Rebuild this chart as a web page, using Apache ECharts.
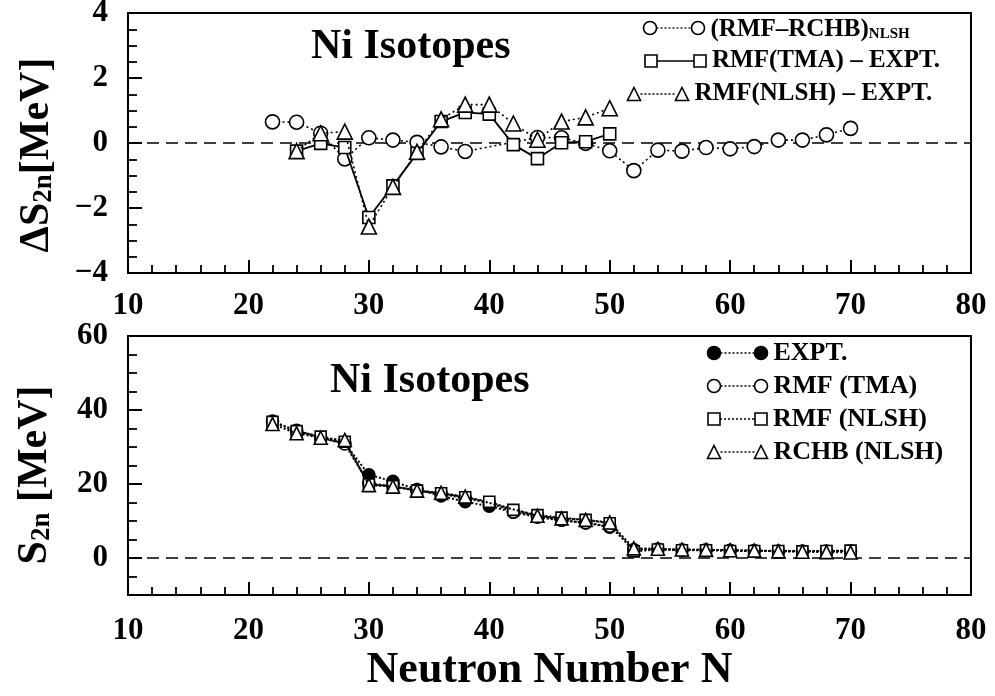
<!DOCTYPE html>
<html>
<head>
<meta charset="utf-8">
<script src="https://cdn.jsdelivr.net/npm/echarts@6/dist/echarts.min.js"></script>
<style>
  html, body { margin: 0; padding: 0; background: #fff; }
  #chart { width: 995px; height: 696px; }
</style>
</head>
<body>
<div id="chart"></div>
<script>
// Neutron numbers of the Ni chain
const neutronN = [22, 24, 26, 28, 30, 32, 34, 36, 38, 40, 42, 44, 46, 48, 50,
                  52, 54, 56, 58, 60, 62, 64, 66, 68, 70];
// Neutron numbers with measured masses
const exptN = [24, 26, 28, 30, 32, 34, 36, 38, 40, 42, 44, 46, 48, 50];

// Upper panel: differences of S2n (MeV)
const diffRmfRchb = [0.65, 0.64, 0.30, -0.49, 0.16, 0.09, 0.02, -0.12, -0.26, null, null, 0.17, 0.16, -0.01, -0.24,
                     -0.85, -0.22, -0.25, -0.14, -0.18, -0.11, 0.09, 0.09, 0.25, 0.45];
const diffTmaExpt = [-0.25, -0.01, -0.14, -2.29, -1.32, -0.32, 0.66, 0.94, 0.89, -0.05, -0.48, 0.01, 0.04, 0.28];
const diffNlshExpt = [-0.25, 0.30, 0.35, -2.57, -1.35, -0.27, 0.73, 1.18, 1.18, 0.60, 0.10, 0.66, 0.79, 1.07];

// Lower panel: two-neutron separation energies S2n (MeV)
const s2nExpt = [34.5, 32.5, 31.0, 22.5, 20.7, 18.5, 16.8, 15.2, 14.0, 12.4, 11.5, 10.2, 9.5, 8.3];
const s2nRmfTma = [37.0, 34.3, 32.5, 30.8, 20.2, 19.4, 18.2, 17.4, 16.1, 14.9, 12.4, 11.0, 10.2, 9.5, 8.6,
                   2.3, 2.4, 2.2, 2.2, 2.1, 2.0, 1.9, 1.9, 1.9, 1.9];
const s2nRmfNlsh = [36.8, 34.3, 32.8, 31.4, 19.9, 19.4, 18.2, 17.5, 16.4, 15.2, 13.0, 11.6, 10.9, 10.3, 9.4,
                    1.8, 2.3, 2.1, 2.1, 1.9, 1.9, 1.9, 1.8, 1.9, 2.0];
const s2nRchbNlsh = [36.2, 33.7, 32.5, 31.9, 19.7, 19.3, 18.2, 17.6, 16.6, null, null, 11.4, 10.7, 10.3, 9.6,
                     2.6, 2.5, 2.3, 2.2, 2.1, 2.0, 1.8, 1.7, 1.6, 1.5];

// Axis ticks and ranges
const xRange = [10, 80];
const s2nTicks = [0, 20, 40, 60];

const FONT = "'Liberation Serif', 'Times New Roman', serif";
const BLACK = '#000';

const pairs = (xs, ys) => xs.map((x, i) => [x, ys[i]]).filter(p => p[1] !== null);

const chart = echarts.init(document.getElementById('chart'), null, { renderer: 'canvas' });

const grids = [
  { left: 128, top: 13, width: 843, height: 260 },
  { left: 128, top: 336, width: 843, height: 259 }
];

function xAxis(gridIndex, withName, labelMargin) {
  return {
    type: 'value', gridIndex, position: 'bottom', min: xRange[0], max: xRange[1], interval: 10, z: 5,
    axisLine: { show: true, onZero: false, lineStyle: { color: BLACK, width: 2 } },
    axisTick: { show: true, inside: true, length: 13, lineStyle: { color: BLACK, width: 2 } },
    minorTick: { show: true, splitNumber: 5, length: 8, lineStyle: { color: BLACK, width: 1.8 } },
    splitLine: { show: false },
    minorSplitLine: { show: false },
    axisLabel: { color: BLACK, fontFamily: FONT, fontWeight: 'bold', fontSize: 31, margin: labelMargin },
    name: withName ? 'Neutron Number N' : '',
    nameLocation: 'middle', nameGap: 54,
    nameTextStyle: { color: BLACK, fontFamily: FONT, fontWeight: 'bold', fontSize: 44 }
  };
}

const yAxes = [
  {
    type: 'value', gridIndex: 0, position: 'left', min: -4, max: 4, interval: 2, z: 5,
    axisLine: { show: true, onZero: false, lineStyle: { color: BLACK, width: 2 } },
    axisTick: { show: true, inside: true, length: 14, lineStyle: { color: BLACK, width: 2 } },
    minorTick: { show: true, splitNumber: 4, length: 9, lineStyle: { color: BLACK, width: 1.8 } },
    splitLine: { show: false },
    axisLabel: { color: BLACK, fontFamily: FONT, fontWeight: 'bold', fontSize: 31, margin: 20,
                 formatter: v => (v < 0 ? '\u2212' + Math.abs(v) : String(v)) }
  },
  // S2n axis: minor ticks every 5 MeV
  {
    type: 'value', gridIndex: 1, position: 'left', offset: 0, min: -10, max: 60, interval: 5, z: 5,
    axisLine: { show: true, onZero: false, lineStyle: { color: BLACK, width: 2 } },
    axisTick: { show: true, inside: true, length: 9, lineStyle: { color: BLACK, width: 1.8 } },
    splitLine: { show: false },
    axisLabel: { show: false }
  },
  // S2n axis: major ticks and labels
  {
    type: 'value', gridIndex: 1, position: 'left', offset: 0, min: -10, max: 60, interval: 10, z: 5,
    axisLine: { show: false, onZero: false },
    axisTick: { show: true, inside: true, length: 14, customValues: s2nTicks, lineStyle: { color: BLACK, width: 2 } },
    splitLine: { show: false },
    axisLabel: { color: BLACK, fontFamily: FONT, fontWeight: 'bold', fontSize: 31, margin: 20, customValues: s2nTicks }
  }
];

// Dashed reference line at zero across the full N range
function zeroSeries(xi, yi) {
  return {
    type: 'line', xAxisIndex: xi, yAxisIndex: yi, data: [[xRange[0], 0], [xRange[1], 0]],
    symbol: 'none', silent: true, animation: false, z: 1,
    lineStyle: { color: BLACK, width: 1.6, type: [12, 7] }
  };
}

function markerSeries(xi, yi, data, symbol, size, lineType, lineWidth, fill, z) {
  return {
    type: 'line', xAxisIndex: xi, yAxisIndex: yi, data,
    symbol, symbolSize: size, showSymbol: true, connectNulls: true,
    lineStyle: { color: BLACK, width: lineWidth, type: lineType },
    itemStyle: { color: fill, borderColor: BLACK, borderWidth: 1.6 },
    emphasis: { disabled: true }, animation: false, z
  };
}

const series = [
  zeroSeries(0, 0),
  markerSeries(0, 0, pairs(neutronN, diffRmfRchb), 'circle', 14, [2, 3], 1.6, '#fff', 3),
  markerSeries(0, 0, pairs(exptN, diffTmaExpt), 'rect', 12, 'solid', 1.8, '#fff', 4),
  markerSeries(0, 0, pairs(exptN, diffNlshExpt), 'triangle', 15, [2, 3], 1.6, '#fff', 5),

  zeroSeries(1, 1),
  markerSeries(1, 1, pairs(exptN, s2nExpt), 'circle', 12, [2, 2], 2, BLACK, 3),
  markerSeries(1, 1, pairs(neutronN, s2nRmfTma), 'circle', 12, [2, 2], 2, '#fff', 4),
  markerSeries(1, 1, pairs(neutronN, s2nRmfNlsh), 'rect', 11, [2, 2], 2, '#fff', 5),
  markerSeries(1, 1, pairs(neutronN, s2nRchbNlsh), 'triangle', 13, [2, 2], 2, '#fff', 6)
];

// Legend rows: symbol, connector, symbol, label
function legendSymbol(kind, cx, cy, s, filled) {
  const style = { fill: filled ? BLACK : '#fff', stroke: BLACK, lineWidth: 1.6 };
  if (kind === 'circle') return { type: 'circle', shape: { cx, cy, r: s / 2 }, style };
  if (kind === 'rect') return { type: 'rect', shape: { x: cx - s / 2, y: cy - s / 2, width: s, height: s }, style };
  return { type: 'polygon', shape: { points: [[cx, cy - s / 2], [cx + s / 2, cy + s / 2], [cx - s / 2, cy + s / 2]] }, style };
}

function legendRow(kind, x1, x2, y, s, dash, text, fontSize, filled, rich) {
  return [
    { type: 'line', shape: { x1: x1 + s / 2, y1: y, x2: x2 - s / 2, y2: y },
      style: { stroke: BLACK, lineWidth: 1.3, lineDash: dash } },
    legendSymbol(kind, x1, y, s, filled),
    legendSymbol(kind, x2, y, s, filled),
    { type: 'text', x: x2 + s / 2 + 6, y: y, style: {
        text, fill: BLACK, font: `bold ${fontSize}px ${FONT}`, verticalAlign: 'middle', align: 'left',
        rich: rich || {} } }
  ];
}

const subRich = {
  m: { fontFamily: FONT, fontWeight: 'bold', fontSize: 25, fill: BLACK, verticalAlign: 'bottom', lineHeight: 28 },
  sub: { fontFamily: FONT, fontWeight: 'bold', fontSize: 15, fill: BLACK, verticalAlign: 'bottom', lineHeight: 12 }
};

// Rotated y-axis titles with subscript
const yTitleRich = {
  a: { fontFamily: FONT, fontWeight: 'bold', fontSize: 42, fill: BLACK, verticalAlign: 'bottom', lineHeight: 44 },
  s: { fontFamily: FONT, fontWeight: 'bold', fontSize: 27, fill: BLACK, verticalAlign: 'bottom', lineHeight: 20 }
};
function yTitle(text, x, y) {
  return { type: 'text', x, y, rotation: Math.PI / 2,
           style: { text, rich: yTitleRich, align: 'center', verticalAlign: 'middle' } };
}

const graphics = [].concat(
  legendRow('circle', 650, 698, 28, 13, [2, 2], '{m|(RMF\u2013RCHB)}{sub|NLSH}', 25, false, subRich),
  legendRow('rect', 651, 700, 61, 12, null, 'RMF(TMA) \u2013 EXPT.', 25, false),
  legendRow('triangle', 634, 682, 94, 13, [2, 2], 'RMF(NLSH) \u2013 EXPT.', 25, false),
  legendRow('circle', 714, 761, 353, 13, [2, 2], 'EXPT.', 26, true),
  legendRow('circle', 714, 761, 386, 13, [2, 2], 'RMF (TMA)', 26, false),
  legendRow('rect', 714, 761, 419, 12, [2, 2], 'RMF (NLSH)', 26, false),
  legendRow('triangle', 714, 761, 452, 13, [2, 2], 'RCHB (NLSH)', 26, false),
  [
    yTitle('{a|\u0394S}{s|2n}{a|[MeV]}', 36, 155),
    yTitle('{a|S}{s|2n}{a| [MeV]}', 34, 475),
    { type: 'text', x: 311, y: 47, style: { text: 'Ni Isotopes', fill: BLACK, font: `bold 42px ${FONT}`, verticalAlign: 'middle' } },
    { type: 'text', x: 330, y: 381, style: { text: 'Ni Isotopes', fill: BLACK, font: `bold 42px ${FONT}`, verticalAlign: 'middle' } }
  ]
);

chart.setOption({
  backgroundColor: '#fff',
  animation: false,
  grid: grids.map(g => Object.assign({ show: true, borderColor: BLACK, borderWidth: 2,
                                       backgroundColor: 'transparent', outerBoundsMode: 'none' }, g)),
  xAxis: [xAxis(0, false, 17), xAxis(1, true, 20)],
  yAxis: yAxes,
  series,
  graphic: graphics
});
</script>
</body>
</html>
